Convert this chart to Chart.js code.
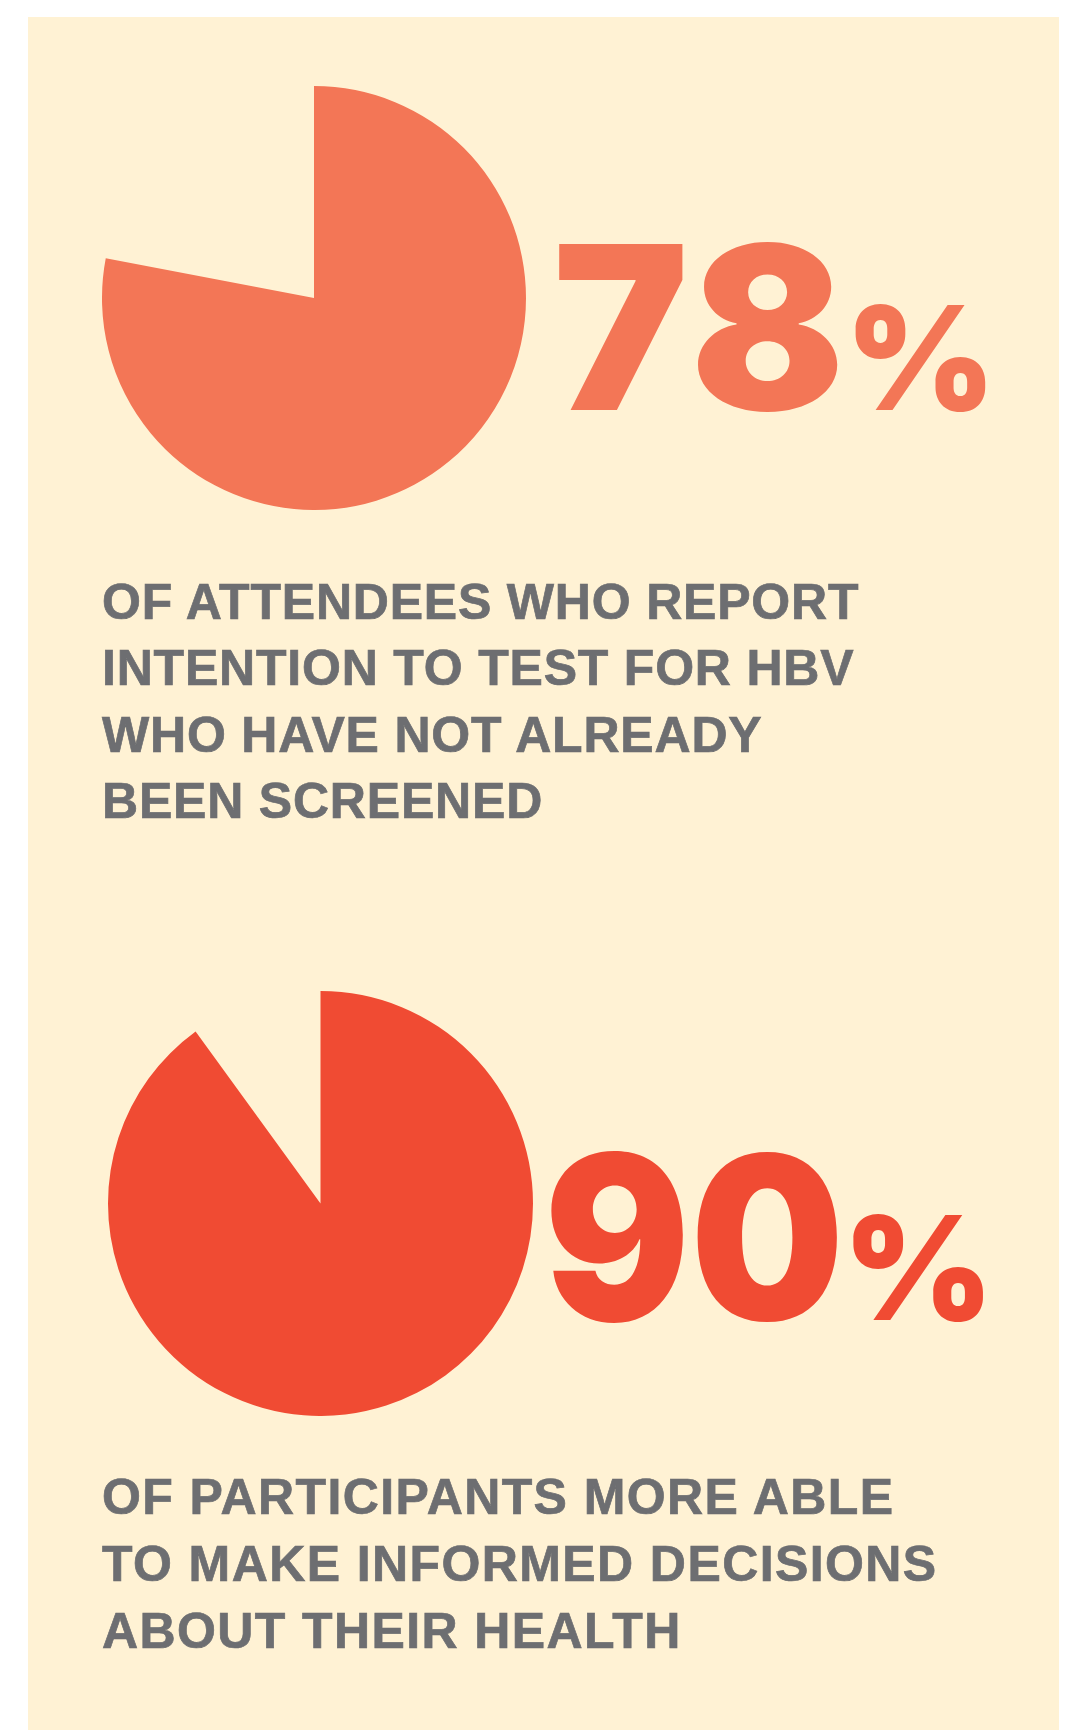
<!DOCTYPE html>
<html>
<head>
<meta charset="utf-8">
<script src="https://cdn.jsdelivr.net/npm/chart.js@4.4.1/dist/chart.umd.min.js"></script>
<style>
    html, body { margin: 0; padding: 0; background: #ffffff; }
    body { width: 1086px; height: 1730px; position: relative; overflow: hidden; }
    .panel { position: absolute; left: 28px; top: 17px; width: 1031px; height: 1713px; background: #fff2d4; }
    canvas { position: absolute; }
    .big { position: absolute; font-family: 'Inter', sans-serif; font-weight: 900; font-size: 228px; line-height: 228px; white-space: nowrap; }
    .big .num { display: inline-block; transform-origin: 0 0; }
    .big .pct { font-size: 144px; line-height: 0; letter-spacing: 0; }
    .desc { position: absolute; left: 102px; font-family: 'Liberation Sans', Arial, sans-serif; font-weight: 700; font-size: 50px; line-height: 66.6px; letter-spacing: 0.8px; color: #6d6e71; -webkit-text-stroke: 0.7px #6d6e71; white-space: nowrap; }
</style>
</head>
<body>
<div class="panel"></div>

<canvas id="pieAttendees" width="424" height="424" style="left:101.5px;top:86px"></canvas>
<div class="big" id="numAttendees" style="left:553px;top:213px;color:#f37656"></div>
<div class="desc" style="top:568.7px">
    OF ATTENDEES WHO REPORT<br>
    INTENTION TO TEST FOR HBV<br>
    WHO HAVE NOT ALREADY<br>
    BEEN SCREENED
</div>

<canvas id="piePartic" width="425" height="425" style="left:107.5px;top:991px"></canvas>
<div class="big" id="numPartic" style="left:544px;top:1123px;color:#f04b33"></div>
<div class="desc" style="top:1464.4px;letter-spacing:1.4px">
    OF PARTICIPANTS MORE ABLE<br>
    TO MAKE INFORMED DECISIONS<br>
    ABOUT THEIR HEALTH
</div>

<script>
// ===== Data =====
const sliceLabels = ['Yes', 'Remainder'];
const attendeesValues = [78, 22];     // intend to test for HBV
const participantsValues = [90, 10];  // more able to make informed decisions

const attendeesColor = '#f37656';
const participantsColor = '#f04b33';

function pieChart(id, values, color) {
    const ctx = document.getElementById(id);
    return new Chart(ctx, {
        type: 'pie',
        data: {
            labels: sliceLabels,
            datasets: [{
                data: values,
                backgroundColor: [color, 'rgba(0,0,0,0)'],
                borderWidth: 0, hoverOffset: 0, offset: 0
            }]
        },
        options: {
            responsive: false, animation: false, events: [],
            rotation: 0, circumference: 360,
            layout: { padding: 0 },
            plugins: { legend: { display: false }, tooltip: { enabled: false } }
        }
    });
}

pieChart('pieAttendees', attendeesValues, attendeesColor);
pieChart('piePartic', participantsValues, participantsColor);

// big headline numbers (digit spacing / squeeze tuned per number)
function headline(id, value, spacing, squeeze, pctGap) {
    document.getElementById(id).innerHTML =
        `<span class="num" style="letter-spacing:${spacing}px;transform:scaleX(${squeeze})">${value}</span>` +
        `<span class="pct" style="margin-left:${pctGap}px">%</span>`;
}
headline('numAttendees', attendeesValues[0], 5, 1, -5);
headline('numPartic', participantsValues[0], 0, 0.95, -17);
</script>
</body>
</html>
